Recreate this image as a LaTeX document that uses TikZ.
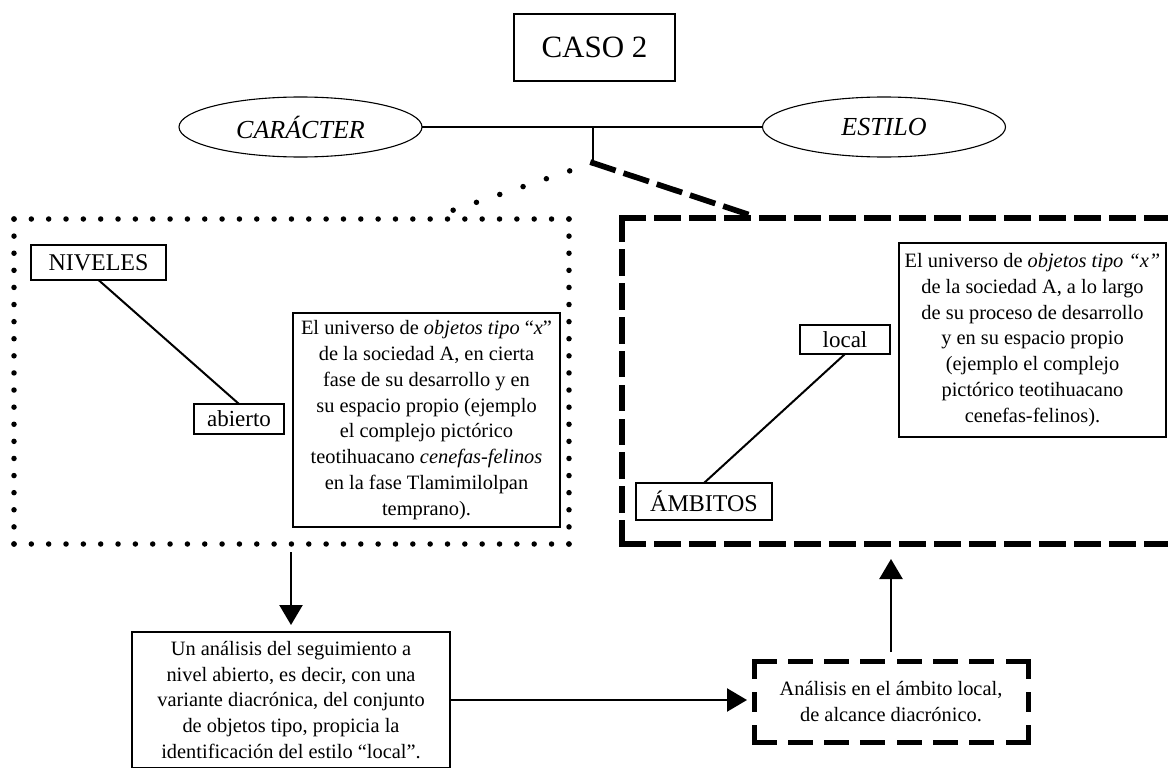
\documentclass[tikz,border=0pt]{standalone}
\usepackage{fontspec}
\setmainfont{Liberation Serif}
\usetikzlibrary{arrows.meta,shapes.geometric}
\begin{document}
\begin{tikzpicture}[x=1pt,y=-1pt,
  every node/.style={inner sep=0pt,outer sep=0pt},
  body/.style={font=\fontsize{20.4}{25.8}\selectfont,align=center},
  thinbox/.style={draw,line width=1.3pt},
  thickbox/.style={draw,line width=2.8pt},
  ell/.style={draw,ellipse,line width=1.1pt,minimum width=243pt,minimum height=60pt,font=\fontsize{26}{30}\selectfont\itshape},
  label/.style={font=\fontsize{23}{27}\selectfont},
  bigcap/.style={font=\fontsize{24}{28}\selectfont},
  link/.style={line width=2pt},
  dotline/.style={line width=5.5pt,line cap=round,dash pattern=on 0pt off #1},
  dotline/.default=17.5pt,
  dashline/.style={line width=5.7pt,line cap=rect,dash pattern=on 21pt off #1},
  dashline/.default=14pt,
  smalldash/.style={line width=5pt,line cap=rect,dash pattern=#1},
  arr/.style={line width=2.4pt,-{Triangle[width=23pt,length=20pt]}}
]
\clip (0,0) rectangle (1168,768);

% top
\node[thinbox,minimum width=161pt,minimum height=67pt,font=\fontsize{31}{36}\selectfont] (caso) at (594.5,47.5) {CASO 2};
\node[ell] (car) at (300.5,127) {CARÁCTER};
\node[ell] (est) at (884,127) {ESTILO};
\coordinate (junc) at (593,127);
\coordinate (fork) at (593,163);
\draw[link] (car.east) -- (est.west);
\draw[line width=2.5pt] (junc) -- (fork);

% containers
\node[minimum width=555pt,minimum height=325pt] (nivbox) at (291.5,381.5) {};
\node[minimum width=578pt,minimum height=326pt] (ambbox) at (911,381) {};
\coordinate (dotend) at (430,218);
\coordinate (dashend) at (759,218);

\draw[dotline=24.6pt] (fork) -- (dotend);
\draw[dashline] (fork) -- (dashend);

\draw[dotline=17.34pt] (nivbox.north west) -- (nivbox.north east);
\draw[dotline=17.34pt] (nivbox.south west) -- (nivbox.south east);
\draw[dotline=17.105pt] (nivbox.north west) -- (nivbox.south west);
\draw[dotline=17.105pt] (nivbox.north east) -- (nivbox.south east);

\draw[dashline] (ambbox.north west) -- (ambbox.north east);
\draw[dashline] (ambbox.south west) -- (ambbox.south east);
\draw[dashline=12.9pt] (ambbox.north west) -- (ambbox.south west);
\draw[dashline=12.9pt] (ambbox.north east) -- (ambbox.south east);

% left container content
\node[thickbox,bigcap,minimum width=135pt,minimum height=35pt] (niveles) at (98.5,262.5) {NIVELES};
\node[thinbox,line width=1.6pt,label,minimum width=90pt,minimum height=30pt] (abierto) at (239,419) {abierto};
\draw[link] (niveles.south) -- (abierto.north);
\node[thinbox,body,minimum width=267pt,minimum height=214pt] (txtL) at (426.5,420)
  {El universo de \textit{objetos tipo} “\textit{x}”\\
   de la sociedad A, en cierta\\
   fase de su desarrollo y en\\
   su espacio propio (ejemplo\\
   el complejo pictórico\\
   teotihuacano \textit{cenefas-felinos}\\
   en la fase Tlamimilolpan\\
   temprano).};

% right container content
\node[thinbox,line width=1.6pt,label,minimum width=90pt,minimum height=29pt] (local) at (845,339.5) {local};
\node[thickbox,bigcap,minimum width=136pt,minimum height=37pt] (ambitos) at (704,501.5) {ÁMBITOS};
\draw[link] (local.south) -- (ambitos.north);
\node[thinbox,body,minimum width=267pt,minimum height=194pt] (txtR) at (1032.5,340)
  {El universo de \textit{objetos tipo “x”}\\
   de la sociedad A, a lo largo\\
   de su proceso de desarrollo\\
   y en su espacio propio\\
   (ejemplo el complejo\\
   pictórico teotihuacano\\
   cenefas-felinos).};

% bottom
\node[thickbox,body,minimum width=318pt,minimum height=136pt] (analisis) at (291,700)
  {Un análisis del seguimiento a\\
   nivel abierto, es decir, con una\\
   variante diacrónica, del conjunto\\
   de objetos tipo, propicia la\\
   identificación del estilo “local”.};
\node[body,minimum width=274pt,minimum height=81pt] (dbox) at (891,701.5)
  {Análisis en el ámbito local,\\ de alcance diacrónico.};
\draw[smalldash={on 20pt off 16.29pt}] (dbox.north west) -- (dbox.north east);
\draw[smalldash={on 20pt off 16.29pt}] (dbox.south west) -- (dbox.south east);
\draw[smalldash={on 15pt off 18pt}] (dbox.north west) -- (dbox.south west);
\draw[smalldash={on 15pt off 18pt}] (dbox.north east) -- (dbox.south east);

\draw[arr,shorten <=8pt,shorten >=7pt] (analisis.north |- nivbox.south) -- (analisis.north);
\draw[arr,shorten >=7pt] (analisis.east) -- (analisis.east -| dbox.west);
\draw[arr,shorten <=9pt,shorten >=15pt] (dbox.north) -- (dbox.north |- ambbox.south);
\end{tikzpicture}
\end{document}
